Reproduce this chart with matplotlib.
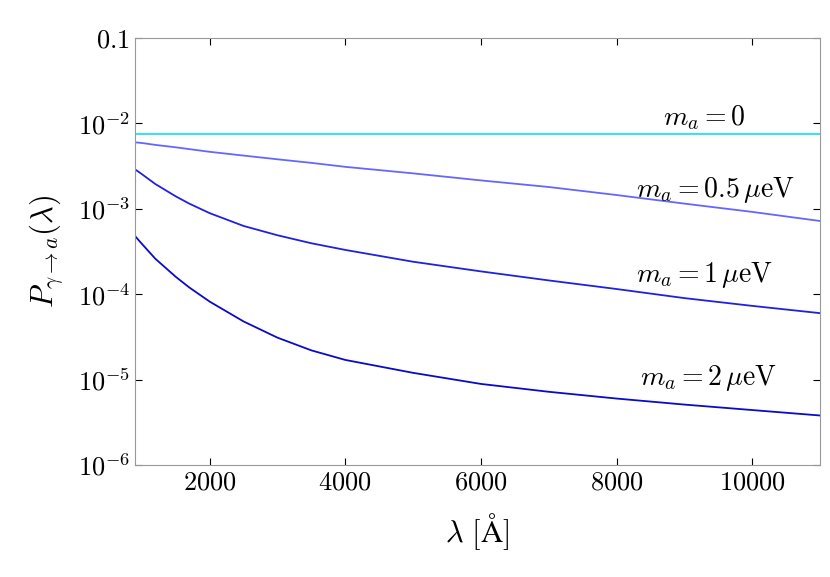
import matplotlib
matplotlib.use("Agg")
import matplotlib.pyplot as plt
from matplotlib.ticker import NullLocator

plt.rcParams["mathtext.fontset"] = "cm"
plt.rcParams["font.family"] = "serif"
plt.rcParams["font.serif"] = ["DejaVu Serif"]

lam = [900, 1000, 1200, 1500, 1700, 2000, 2500, 3000, 3500, 4000, 5000, 6000, 7000, 8000, 9000, 10000, 11000]
p_m0 = [7.5e-3] * len(lam)
p_m05 = [6.0e-3, 5.9e-3, 5.6e-3, 5.25e-3, 5.0e-3, 4.65e-3, 4.2e-3, 3.8e-3, 3.45e-3, 3.1e-3, 2.6e-3, 2.15e-3, 1.8e-3, 1.45e-3, 1.15e-3, 9.2e-4, 7.2e-4]
p_m1 = [2.9e-3, 2.55e-3, 1.95e-3, 1.4e-3, 1.15e-3, 8.9e-4, 6.3e-4, 4.9e-4, 3.95e-4, 3.3e-4, 2.4e-4, 1.85e-4, 1.45e-4, 1.15e-4, 9.0e-5, 7.3e-5, 6.0e-5]
p_m2 = [4.8e-4, 3.9e-4, 2.6e-4, 1.6e-4, 1.2e-4, 8.2e-5, 4.8e-5, 3.1e-5, 2.2e-5, 1.7e-5, 1.2e-5, 8.9e-6, 7.2e-6, 6.0e-6, 5.1e-6, 4.4e-6, 3.8e-6]

fig = plt.figure(figsize=(8.30, 5.77), dpi=100)
ax = fig.add_axes([135/830, 1-465/577, 685/830, 427/577])
ax.plot(lam, p_m0, color="#20e0f0", lw=1.3)
ax.plot(lam, p_m05, color="#6666ff", lw=1.3)
ax.plot(lam, p_m1, color="#2020e0", lw=1.3)
ax.plot(lam, p_m2, color="#0a0ac8", lw=1.3)
ax.set_yscale("log")
ax.set_xlim(900, 11000)
ax.set_ylim(1e-6, 0.1)
ax.set_xticks([2000, 4000, 6000, 8000, 10000])
ax.set_yticks([1e-6, 1e-5, 1e-4, 1e-3, 1e-2, 1e-1])
ax.set_yticklabels([r"$10^{-6}$", r"$10^{-5}$", r"$10^{-4}$", r"$10^{-3}$", r"$10^{-2}$", r"$0.1$"])
ax.yaxis.set_minor_locator(NullLocator())
ax.tick_params(labelsize=19, direction="in", length=5, top=True, right=True)
ax.xaxis.set_major_formatter(matplotlib.ticker.FuncFormatter(lambda v, p: r"$%d$" % v))
for s in ax.spines.values():
    s.set_color("#999999")
ax.set_xlabel(r"$\lambda\ [\mathrm{\AA}]$", fontsize=22, labelpad=12)
ax.set_ylabel(r"$P_{\gamma\to a}(\lambda)$", fontsize=22, labelpad=8)
kw = dict(fontsize=20, ha="center", va="center")
ax.text(9300, 1.16e-2, r"$m_a = 0$", **kw)
ax.text(9450, 1.66e-3, r"$m_a = 0.5\,\mu\mathrm{eV}$", **kw)
ax.text(9300, 1.68e-4, r"$m_a = 1\,\mu\mathrm{eV}$", **kw)
ax.text(9350, 1.05e-5, r"$m_a = 2\,\mu\mathrm{eV}$", **kw)
fig.savefig("out.png", dpi=100)
